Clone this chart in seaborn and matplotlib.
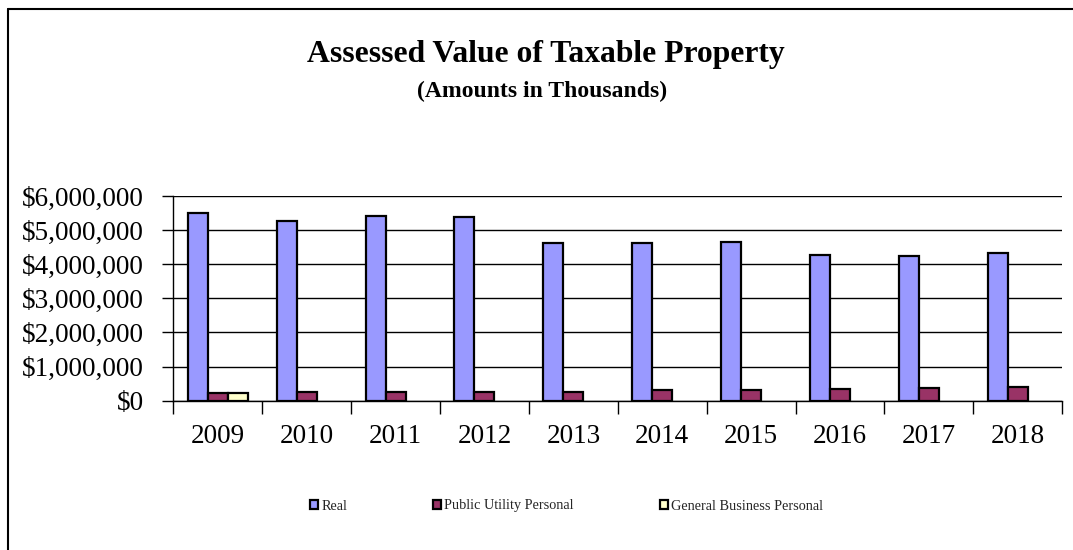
import numpy as np
import pandas as pd
import matplotlib
matplotlib.use("Agg")
import matplotlib.pyplot as plt
from matplotlib.patches import Patch
from matplotlib.ticker import FuncFormatter, FixedLocator, NullFormatter
from matplotlib.lines import Line2D
import seaborn as sns

# Assessed values, in thousands of dollars
years = ["2009", "2010", "2011", "2012", "2013", "2014", "2015", "2016", "2017", "2018"]
real = [5490000, 5280000, 5420000, 5400000, 4620000, 4620000, 4650000, 4260000, 4240000, 4320000]
public_utility = [226000, 245000, 250000, 260000, 265000, 300000, 320000, 340000, 380000, 410000]
general_business = [226000, np.nan, np.nan, np.nan, np.nan, np.nan, np.nan, np.nan, np.nan, np.nan]

series_names = ["Real", "Public Utility Personal", "General Business Personal"]
series_colors = ["#9999FF", "#993366", "#FFFFCC"]

df = pd.DataFrame({
    "Year": years * 3,
    "Series": [series_names[0]] * 10 + [series_names[1]] * 10 + [series_names[2]] * 10,
    "Value": real + public_utility + general_business,
})

sns.set_theme(style="white")
plt.rcParams["font.family"] = ["Liberation Serif", "DejaVu Serif"]

fig = plt.figure(figsize=(10.73, 5.5), dpi=100)
ax = fig.add_axes([0.1615, 0.2715, 0.8285, 0.372])

sns.barplot(
    data=df.dropna(), x="Year", y="Value", hue="Series",
    order=years, hue_order=series_names, palette=series_colors,
    width=0.675, edgecolor="black", linewidth=1.6, saturation=1,
    errorbar=None, legend=False, ax=ax,
)

ax.set_ylim(0, 6000000)
ax.set_xlim(-0.5, len(years) - 0.5)
ax.set_yticks(np.arange(0, 6000001, 1000000))
ax.yaxis.set_major_formatter(FuncFormatter(lambda v, p: "${:,.0f}".format(v)))
ax.yaxis.grid(True, color="black", linewidth=1.0)
ax.set_axisbelow(True)

# Category boundaries carry the tick marks, labels sit at the centres
ax.xaxis.set_major_locator(FixedLocator(np.arange(-0.5, len(years), 1.0)))
ax.xaxis.set_major_formatter(NullFormatter())
ax.xaxis.set_minor_locator(FixedLocator(np.arange(len(years))))
ax.set_xticklabels(years, minor=True)
ax.tick_params(axis="x", which="major", direction="out", length=9, width=1, color="black", bottom=True)
ax.tick_params(axis="x", which="minor", length=0, pad=17, labelsize=19.5, labelcolor="black", bottom=True)
ax.tick_params(axis="y", direction="out", length=8, width=1, color="black", left=True,
               labelsize=19.5, labelcolor="black", pad=13)
ax.set_xlabel("")
ax.set_ylabel("")

for side in ["top", "right"]:
    ax.spines[side].set_visible(False)
for side in ["left", "bottom"]:
    ax.spines[side].set_color("black")
    ax.spines[side].set_linewidth(1.0)

# Chart frame
fig.add_artist(Line2D([8 / 1073, 8 / 1073], [0, 1 - 9 / 550], color="black", linewidth=1.5))
fig.add_artist(Line2D([8 / 1073, 1], [1 - 9 / 550, 1 - 9 / 550], color="black", linewidth=1.5))

fig.text(0.5084, 1 - 62 / 550, "Assessed Value of Taxable Property", ha="center", va="baseline",
         fontsize=22.8, fontweight="bold", color="black")
fig.text(0.5056, 1 - 97 / 550, "(Amounts in Thousands)", ha="center", va="baseline",
         fontsize=17, fontweight="bold", color="black")

handles = [Patch(facecolor=c, edgecolor="black", linewidth=1.6, label=n)
           for n, c in zip(series_names, series_colors)]
fig.legend(handles=handles, loc="center", bbox_to_anchor=(566.5 / 1073, 1 - 506 / 550), ncol=3,
           frameon=False, fontsize=10.3, handlelength=0.55, handleheight=0.55,
           handletextpad=0.25, columnspacing=6.0, borderpad=0)

fig.savefig("out.png", dpi=100, facecolor="white")
